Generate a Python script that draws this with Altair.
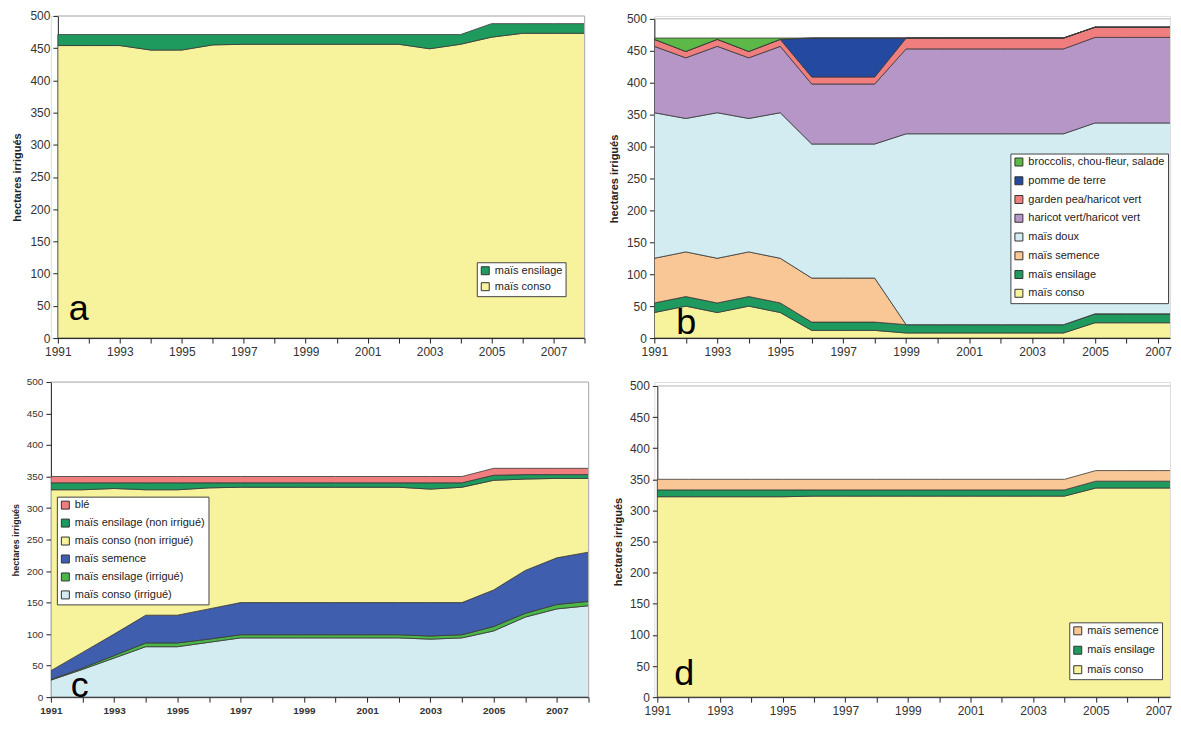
import altair as alt
import pandas as pd

years = list(range(1991, 2009))

# ---------------- panel a (bottom -> top)
a_names = ["maïs conso", "maïs ensilage"]
a_conso = [454, 454, 454, 447, 447, 455, 456, 456, 456, 456, 456, 456, 449, 456, 467, 473, 473, 473]
a_ensilage = [17, 17, 17, 24, 24, 16, 15, 15, 15, 15, 15, 15, 22, 15, 21, 15, 15, 15]
a_colors = ["#F7F29C", "#1F9A5E"]

# ---------------- panel b (bottom -> top)
b_names = ["maïs conso", "maïs ensilage", "maïs semence", "maïs doux",
           "haricot vert/haricot vert", "garden pea/haricot vert",
           "pomme de terre", "broccolis, chou-fleur, salade"]
b_conso = [40, 50, 40, 50, 40, 12, 12, 12, 8, 8, 8, 8, 8, 8, 24, 24, 24, 24]
b_ensilage = [15, 15, 15, 15, 15, 13, 13, 13, 13, 13, 13, 13, 13, 13, 14, 14, 14, 14]
b_semence = [70, 70, 70, 70, 70, 69, 69, 69, 0, 0, 0, 0, 0, 0, 0, 0, 0, 0]
b_doux = [228, 209, 228, 209, 228, 210, 210, 210, 299, 299, 299, 299, 299, 299, 299, 299, 299, 299]
b_haricot = [104, 95, 104, 95, 104, 94, 94, 94, 133, 133, 133, 133, 133, 133, 134, 134, 134, 134]
b_pea = [11, 10, 11, 10, 11, 11, 11, 11, 17, 17, 17, 17, 17, 17, 16, 16, 16, 16]
b_pomme = [0, 0, 0, 0, 0, 61, 61, 61, 0, 0, 0, 0, 0, 0, 0, 0, 0, 0]
b_brocc = [2, 21, 2, 21, 2, 0, 0, 0, 0, 0, 0, 0, 0, 0, 0, 0, 0, 0]
b_colors = ["#F7F29C", "#1F9A5E", "#F9C795", "#D3ECF2", "#B596C6", "#F07E7E", "#2449A0", "#5CB947"]

# ---------------- panel c (bottom -> top)
c_names = ["maïs conso (irrigué)", "maïs ensilage (irrigué)", "maïs semence",
           "maïs conso (non irrigué)", "maïs ensilage (non irrigué)", "blé"]
c_conso_irr = [27, 44, 62, 80, 80, 87, 94, 94, 94, 94, 94, 94, 92, 94, 105, 127, 140, 145]
c_ens_irr = [1, 2, 4, 6, 6, 5, 5, 5, 5, 5, 5, 5, 5, 5, 7, 6, 7, 7]
c_semence = [14, 25, 34, 44, 44, 48, 51, 51, 51, 51, 51, 51, 53, 51, 58, 68, 74, 78]
c_conso_non = [287, 258, 231, 199, 199, 192, 183, 183, 183, 183, 183, 183, 180, 183, 174, 145, 126, 117]
c_ens_non = [11, 11, 9, 11, 11, 8, 7, 7, 7, 7, 7, 7, 10, 7, 8, 7, 6, 6]
c_ble = [10, 10, 10, 10, 10, 10, 10, 10, 10, 10, 10, 10, 10, 10, 11, 10, 10, 10]
c_colors = ["#D3ECF2", "#4CB648", "#3F5FAE", "#F7F29C", "#1F9A5E", "#F07E7E"]

# ---------------- panel d (bottom -> top)
d_names = ["maïs conso", "maïs ensilage", "maïs semence"]
d_conso = [322, 322, 322, 322, 322, 323, 323, 323, 323, 323, 323, 323, 323, 323, 336, 336, 336, 336]
d_ensilage = [11, 11, 11, 11, 11, 10, 10, 10, 10, 10, 10, 10, 10, 10, 11, 11, 11, 11]
d_semence = [17, 17, 17, 17, 17, 17, 17, 17, 17, 17, 17, 17, 17, 17, 17, 17, 17, 17]
d_colors = ["#F7F29C", "#1F9A5E", "#F9C795"]

y_ticks = list(range(0, 501, 50))
FONT = "Liberation Sans"
BORDER = "#b5b5b5"


def make_df(names, series):
    rows = []
    for k, (n, s) in enumerate(zip(names, series)):
        for yr, v in zip(years, s):
            rows.append({"year": yr, "serie": n, "v": v, "k": k})
    return pd.DataFrame(rows)


def panel(names, series, colors, w, h, xmax, x0, y0, lx, ly, letter, tx, ty,
          small=False, row_pad=6, title_pad=7, right_border=True):
    df = make_df(names, series)
    lab = 10 if small else 12
    ttl = 9 if small else 11
    xvals = [yv for yv in years if yv <= xmax]
    area = alt.Chart(df).mark_area(
        clip=True, stroke="#3a3a3a", strokeWidth=0.8, strokeJoin="round"
    ).encode(
        x=alt.X("year:Q",
                scale=alt.Scale(domain=[1991, xmax], range=[x0, w], nice=False, zero=False),
                axis=alt.Axis(values=xvals, format="d",
                              labelExpr="datum.value % 2 == 1 ? datum.label : ''",
                              title=None, grid=False, tickSize=5, labelPadding=3,
                              labelFontSize=lab, labelFont=FONT, labelColor="#333",
                              labelFontWeight="bold" if small else "normal",
                              domainColor="#222", tickColor="#222",
                              labelFlush=False, labelOverlap=False)),
        y=alt.Y("v:Q", stack="zero",
                scale=alt.Scale(domain=[0, 500], range=[h, y0], nice=False),
                axis=alt.Axis(values=y_ticks, title="hectares irrigués", offset=-x0,
                              titleFontSize=ttl, titleFontWeight="bold", titleFont=FONT,
                              titleColor="#222", titlePadding=title_pad,
                              labelFontSize=lab, labelFont=FONT, labelColor="#333",
                              tickSize=5, labelPadding=3, grid=False,
                              domainColor="#222", tickColor="#222")),
        color=alt.Color("serie:N",
                        scale=alt.Scale(domain=names[::-1], range=colors[::-1]),
                        legend=alt.Legend(orient="none", legendX=lx, legendY=ly,
                                          title=None, fillColor="white",
                                          strokeColor="#444", padding=3,
                                          symbolType="square", symbolSize=64,
                                          symbolStrokeColor="#333",
                                          symbolStrokeWidth=1,
                                          labelFontSize=11, labelFont=FONT,
                                          labelColor="#222", rowPadding=row_pad,
                                          labelOffset=4)),
        order=alt.Order("k:Q", sort="ascending"),
    )
    top = alt.Chart(pd.DataFrame({"z": [0]})).mark_rule(color=BORDER, strokeWidth=1).encode(
        x=alt.value(x0), x2=alt.value(w), y=alt.value(y0))
    layers = [area, top]
    if right_border:
        layers.append(alt.Chart(pd.DataFrame({"z": [0]})).mark_rule(color=BORDER, strokeWidth=1).encode(
            x=alt.value(w), y=alt.value(y0), y2=alt.value(h)))
    txt = alt.Chart(pd.DataFrame({"t": [letter]})).mark_text(
        align="left", baseline="alphabetic", fontSize=36, font=FONT, color="black"
    ).encode(x=alt.value(tx), y=alt.value(ty), text="t:N")
    layers.append(txt)
    return alt.layer(*layers).properties(width=w, height=h)


WB = 517
WD = 517
pa = panel(a_names, [a_conso, a_ensilage], a_colors, 535, 323, 2008, 7, 0,
           427, 247, "a", 18, 305, row_pad=3, title_pad=7)
pb = panel(b_names, [b_conso, b_ensilage, b_semence, b_doux, b_haricot, b_pea, b_pomme, b_brocc],
           b_colors, WB, 323, 1991 + WB / 31.56, 0, 3, WB - 160, 138, "b", 22, 319,
           row_pad=5.8, title_pad=7, right_border=False)
pc = panel(c_names, [c_conso_irr, c_ens_irr, c_semence, c_conso_non, c_ens_non, c_ble],
           c_colors, 539, 316, 2008, 0, 0, 6, 115, "c", 20, 316, small=True, row_pad=5,
           title_pad=6)
pd_ = panel(d_names, [d_conso, d_ensilage, d_semence], d_colors, WD, 316,
            1991 + (WD - 3) / 31.4, 3, 4, WD - 101, 241, "d", 20, 304,
            row_pad=6.5, title_pad=6, right_border=False)

chart = alt.concat(
    pa, pb, pc, pd_, columns=2,
    spacing={"row": 18, "column": 18}
).resolve_scale(
    color="independent", x="independent", y="independent"
).properties(
    padding={"left": 2, "top": 0, "right": 0, "bottom": 0}
).configure_view(
    strokeOpacity=0
).configure(font=FONT)

chart.save("out.html", embed_options={"renderer": "svg", "actions": False})
